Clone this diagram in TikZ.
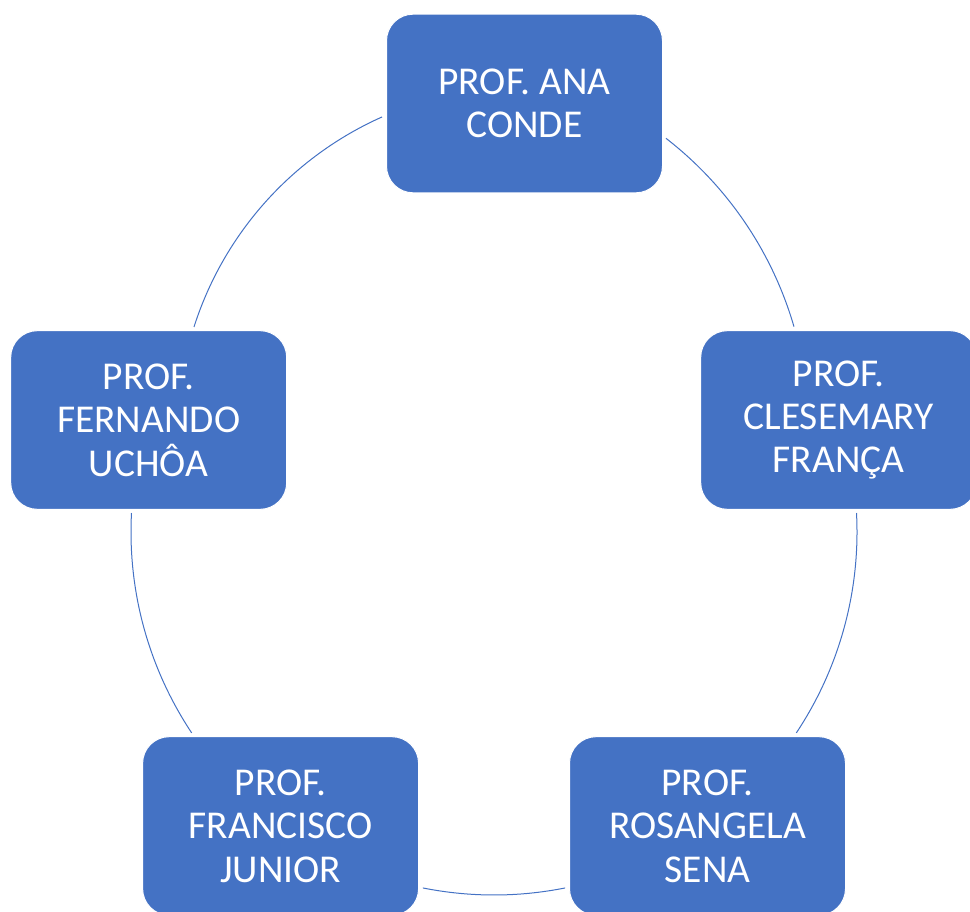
\documentclass[tikz,border=0pt]{standalone}
\usepackage{fontspec}
\setmainfont{Carlito}
\definecolor{azul}{HTML}{4472C4}

\begin{document}
\begin{tikzpicture}[x=0.75pt, y=0.75pt,
  membro/.style={draw=white, line width=0.75pt, fill=azul, rounded corners=20pt,
    minimum width=207pt, minimum height=134pt, align=center, text=white,
    font=\fontsize{29.6}{32.6}\selectfont},
  ciclo/.style={draw=azul, line width=0.75pt}]
 \useasboundingbox (0,0) rectangle (970,911);
 \clip (0,0) rectangle (970,911);
 \coordinate (c) at (494,379);
 \coordinate (cl) at (522.2,479.3);
 \coordinate (cr) at (440.2,481.6);
  \draw[ciclo] (c) ++(3:272.25pt) arc[start angle=3, end angle=-33.6, radius=272.25pt];
  \draw[ciclo] (c) ++(-78.7:272.25pt) arc[start angle=-78.7, end angle=-101.3, radius=272.25pt];
  \draw[ciclo] (c) ++(-146.4:272.25pt) arc[start angle=-146.4, end angle=-183, radius=272.25pt];
  \draw[ciclo] (cl) ++(162.3:258.4pt) arc[start angle=162.3, end angle=114, radius=258.4pt];
  \draw[ciclo] (cr) ++(52.2:276.3pt) arc[start angle=52.2, end angle=16.2, radius=276.3pt];
\node[membro] (ana) at (524.5,807.5) {PROF. ANA\\CONDE};
\node[membro] (clesemary) at (838.7,491) {PROF.\\CLESEMARY\\FRANÇA};
\node[membro] (rosangela) at (707.5,85) {PROF.\\ROSANGELA\\SENA};
\node[membro] (francisco) at (280.6,85) {PROF.\\FRANCISCO\\JUNIOR};
\node[membro] (fernando) at (148.7,491) {PROF.\\FERNANDO\\UCHÔA};
\end{tikzpicture}
\end{document}
